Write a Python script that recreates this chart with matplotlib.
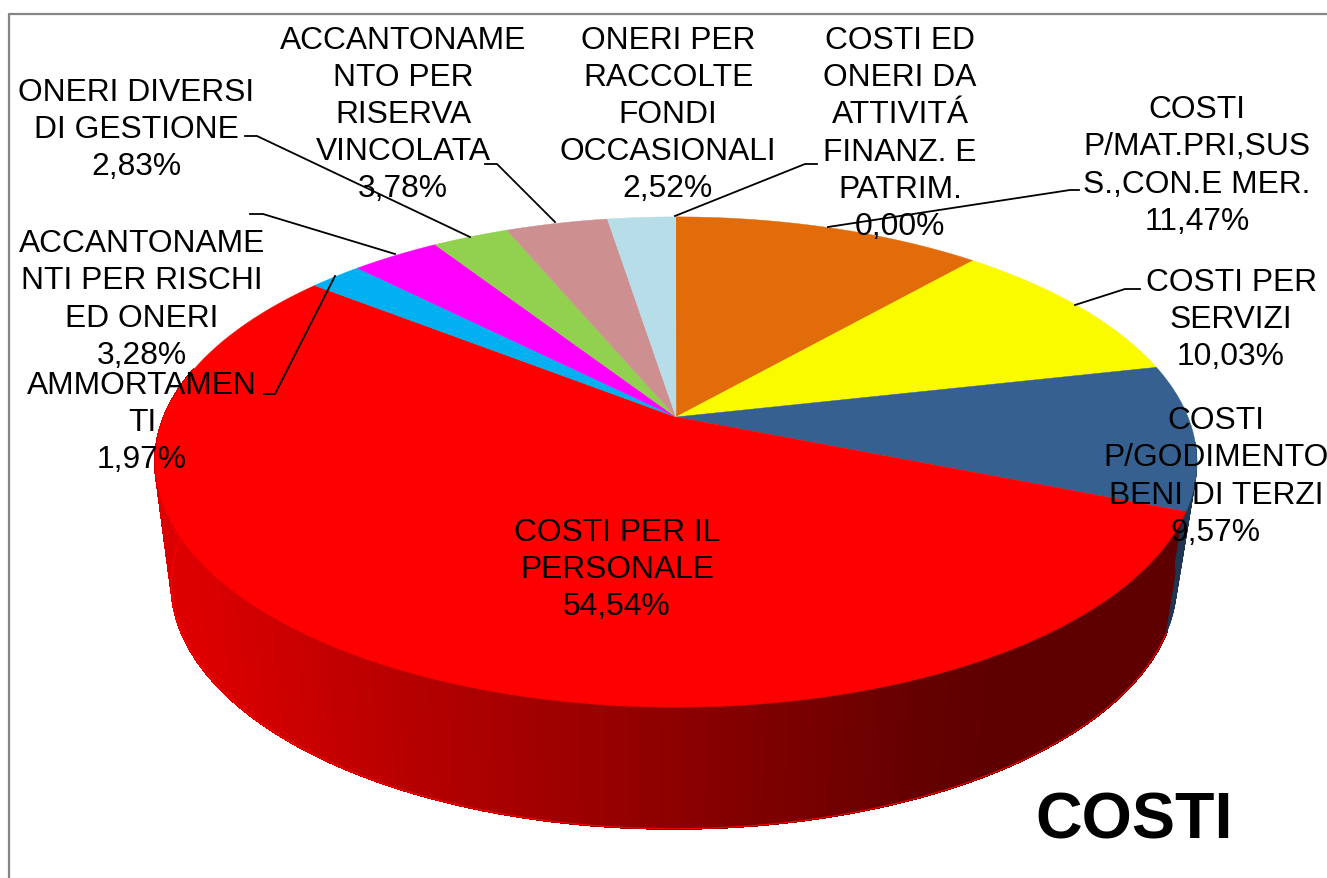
import numpy as np
from matplotlib import pyplot as plt
from matplotlib.collections import PolyCollection
from matplotlib.colors import LinearSegmentedColormap

values = [11.47, 10.03, 9.57, 54.54, 1.97, 3.28, 2.83, 3.78, 2.52, 0.00]
labels = ['COSTI\nP/MAT.PRI,SUS\nS.,CON.E MER.', 'COSTI PER\nSERVIZI',
          'COSTI\nP/GODIMENTO\nBENI DI TERZI', 'COSTI PER IL\nPERSONALE',
          'AMMORTAMEN\nTI', 'ACCANTONAME\nNTI PER RISCHI\nED ONERI',
          'ONERI DIVERSI\nDI GESTIONE', 'ACCANTONAME\nNTO PER\nRISERVA\nVINCOLATA',
          'ONERI PER\nRACCOLTE\nFONDI\nOCCASIONALI',
          'COSTI ED\nONERI DA\nATTIVITÁ\nFINANZ. E\nPATRIM.']
colors = ['#E26B0A', '#FBFB00', '#35608F', '#FF0000', '#00B0F0',
          '#FF00FF', '#92D050', '#CD8F8F', '#B7DEE8', '#4BACC6']
label_pos = [(1197, 166), (1231, 320), (1216, 477), (617, 570), (142, 423),
             (142, 300), (136, 130), (403, 115), (668, 115), (900, 134)]
leaders = [[(1079, 191), (1070, 191), (828, 228)],
           [(1140, 290), (1125, 290), (1075, 306)],
           [(264, 395), (275, 395), (335, 277)],
           [(250, 215), (263, 215), (395, 255)],
           [(245, 137), (257, 137), (470, 238)],
           [(485, 165), (497, 165), (555, 223)],
           [(817, 165), (805, 165), (675, 217)]]

CX, CY = 676, 418
A, C, D = 512, 0.1837, -160.1
DEPTH, SHRINK = 121.5, 0.965

plt.rcParams['font.family'] = ['Liberation Sans', 'DejaVu Sans']
fig = plt.figure(figsize=(13.27, 8.79), dpi=100)
ax = fig.add_axes([0, 0, 1, 1])
ax.set_xlim(0, 1327)
ax.set_ylim(879, 0)
ax.axis('off')


def top(theta):
    # tilted disc, theta clockwise from 12 o'clock
    x, y = np.sin(theta), np.cos(theta)
    w = 1 + C * y
    return CX + A * x / w, (D * y + CY) / w


def bottom(theta):
    x, y = top(theta)
    return CX - 2 + SHRINK * (x - CX), y + DEPTH


def wall(th):
    xt, yt = top(th)
    xb, yb = bottom(th)
    quads = [[(xt[i], yt[i]), (xt[i + 1], yt[i + 1]), (xb[i + 1], yb[i + 1]), (xb[i], yb[i])]
             for i in range(len(th) - 1)]
    return quads, (xt[:-1] + xb[:-1]) / 2


bounds = np.radians(np.concatenate([[0], np.cumsum(values)]) * 3.6)

ax.plot([9, 9, 1327], [879, 15, 15], color='#868686', lw=1.6, zorder=1)

# side wall of red and blue slices
red_wall = LinearSegmentedColormap.from_list(
    'w', [(0, '#DC0000'), (0.28, '#B40000'), (0.62, '#8A0000'), (0.91, '#640000'), (1, '#5E0000')])
quads, mid = wall(np.linspace(bounds[3], np.radians(282), 160))
shade = red_wall(np.clip((mid - 200) / 800, 0, 1))
ax.add_collection(PolyCollection(quads, facecolors=shade, edgecolors=shade, linewidths=1.0,
                                 antialiaseds=False, zorder=2))

quads, mid = wall(np.linspace(np.radians(96), bounds[3], 30))
ax.add_collection(PolyCollection(quads, facecolors='#1F3551', edgecolors='#1F3551', linewidths=0.5, zorder=2))

# thin red rim round the bottom of the wall
ax.plot(*bottom(np.linspace(bounds[3], np.radians(282), 300)), color='#FF0000', lw=0.8, zorder=2.5)

# top face
for i in range(len(values)):
    if values[i] == 0:
        continue
    th = np.linspace(bounds[i], bounds[i + 1], 120)
    xs, ys = top(th)
    ax.fill(np.r_[CX, xs], np.r_[CY, ys], color=colors[i], lw=0.3, zorder=3)

for pts in leaders:
    ax.plot(*zip(*pts), color='black', lw=1.3, zorder=4)

for i in range(len(values)):
    txt = labels[i] + '\n' + f'{values[i]:.2f}%'.replace('.', ',')
    ax.text(label_pos[i][0], label_pos[i][1], txt, ha='center', va='center',
            fontsize=22.9, linespacing=1.31, color='black', zorder=5)

ax.text(1134, 822, 'COSTI', fontsize=46.5, fontweight='bold', ha='center', va='center', zorder=5)

fig.savefig('out.png', dpi=100)
